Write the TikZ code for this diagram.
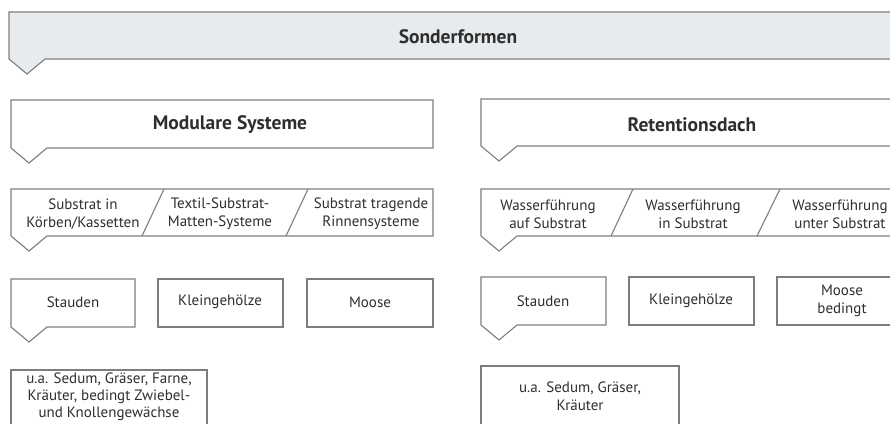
\documentclass[tikz,border=0pt]{standalone}
\usepackage{fontspec}
\setmainfont{PT Sans}
\usetikzlibrary{calc}

\definecolor{edge}{HTML}{7E7E7E}
\definecolor{ink}{HTML}{2E2E2E}
\definecolor{bannerfill}{HTML}{E8EBEE}

\tikzset{
  frame/.style={rectangle, draw=none, inner sep=0pt, outer sep=0pt, anchor=north west},
  body/.style={text=ink, font=\fontsize{15}{18}\selectfont, align=center, inner sep=0pt},
  heading/.style={text=ink, font=\bfseries\fontsize{19.5}{22}\selectfont, inner sep=0pt},
  outline/.style={draw=edge, line width=1.1pt, line join=miter},
}

% outline of a box with a downward notch at its lower left corner
\newcommand\notched[2][white]{%
  \draw[outline, fill=#1] (#2.north west) -- (#2.north east) -- (#2.south east)
    -- ($(#2.south west)+(36,0)$) -- ($(#2.south west)+(18,15)$)
    -- (#2.south west) -- cycle;}
% plain rectangular outline
\newcommand\plain[1]{%
  \draw[outline] (#1.north west) rectangle (#1.south east);}

\begin{document}
\begin{tikzpicture}[x=1pt, y=-1pt]
\useasboundingbox (0,0) rectangle (890,423);
\clip (0,0) rectangle (890,423);

% ---- top level ----
\node[frame, minimum width=900pt, minimum height=47pt] (banner) at (9,12) {};
\notched[bannerfill]{banner}
\node[heading] (tbanner) at (458,37) {Sonderformen};

% ---- second level ----
\node[frame, minimum width=422pt, minimum height=48pt] (modul) at (11,100) {};
\notched{modul}
\node[heading] (tmodul) at (230,125) {Modulare Systeme};

\node[frame, minimum width=422pt, minimum height=47pt] (reten) at (481,99) {};
\notched{reten}
\node[heading] (treten) at (692,125) {Retentionsdach};

% ---- system variants ----
\node[frame, minimum width=422pt, minimum height=47pt] (mvar) at (11,189) {};
\notched{mvar}
\coordinate (md1t) at (164,189); \coordinate (md1b) at (142,236);
\coordinate (md2t) at (308,189); \coordinate (md2b) at (286,236);
\draw[outline] (md1t) -- (md1b);
\draw[outline] (md2t) -- (md2b);
\node[body] (mv1) at (83,214) {Substrat in\\Körben/Kassetten};
\node[body] (mv2) at (220,214) {Textil-Substrat-\\Matten-Systeme};
\node[body] (mv3) at (371,214) {Substrat tragende\\Rinnensysteme};

\node[frame, minimum width=422pt, minimum height=47pt] (rvar) at (481,189) {};
\notched{rvar}
\coordinate (rd1t) at (633,189); \coordinate (rd1b) at (611,236);
\coordinate (rd2t) at (780,189); \coordinate (rd2b) at (757,236);
\draw[outline] (rd1t) -- (rd1b);
\draw[outline] (rd2t) -- (rd2b);
\node[body] (rv1) at (548,214) {Wasserführung\\auf Substrat};
\node[body] (rv2) at (693,214) {Wasserführung\\in Substrat};
\node[body] (rv3) at (840,214) {Wasserführung\\unter Substrat};

% ---- plant groups ----
\node[frame, minimum width=124pt, minimum height=48pt] (mst) at (11,279) {};
\notched{mst}
\node[frame, minimum width=125pt, minimum height=48pt] (mkl) at (158,279) {};
\plain{mkl}
\node[frame, minimum width=126pt, minimum height=48pt] (mmo) at (307,279) {};
\plain{mmo}
\node[body] (tmst) at (73,302) {Stauden};
\node[body] (tmkl) at (220,302) {Kleingehölze};
\node[body] (tmmo) at (370,302) {Moose};

\node[frame, minimum width=125pt, minimum height=48pt] (rst) at (481,277) {};
\notched{rst}
\node[frame, minimum width=125pt, minimum height=48pt] (rkl) at (629,277) {};
\plain{rkl}
\node[frame, minimum width=126pt, minimum height=48pt] (rmo) at (777,277) {};
\plain{rmo}
\node[body] (trst) at (543,301) {Stauden};
\node[body] (trkl) at (691,301) {Kleingehölze};
\node[body] (trmo) at (842,301) {Moose\\bedingt};

% ---- examples ----
\node[frame, minimum width=196pt, minimum height=70pt] (mex) at (11,370) {};
\plain{mex}
\node[body, font=\fontsize{15}{17}\selectfont] (tmex) at (109,397)
  {u.a. Sedum, Gräser, Farne,\\Kräuter, bedingt Zwiebel-\\und Knollengewächse};

\node[frame, minimum width=198pt, minimum height=74pt] (rex) at (481,366) {};
\plain{rex}
\node[body] (trex) at (580,396) {u.a. Sedum, Gräser,\\Kräuter};
\end{tikzpicture}
\end{document}
